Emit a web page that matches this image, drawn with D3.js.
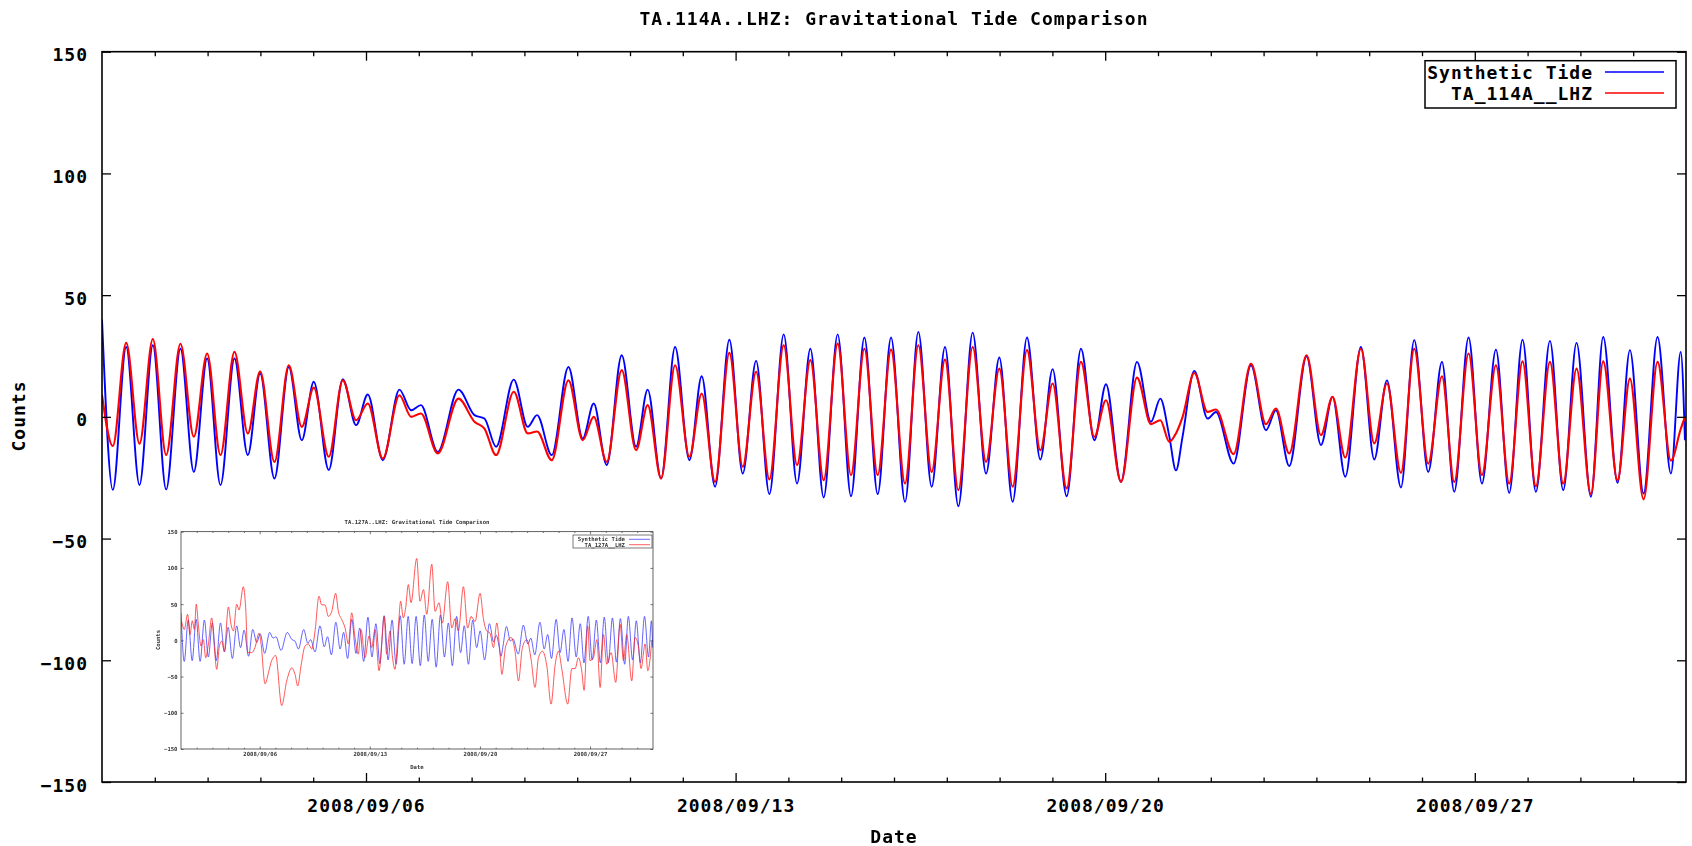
<!DOCTYPE html>
<html>
<head>
<meta charset="utf-8">
<script src="https://cdn.jsdelivr.net/npm/d3@7"></script>
<style>
  html, body { margin: 0; padding: 0; background: #fff; }
  svg { display: block; }
  .lbl { font-family: "DejaVu Sans Mono", monospace; font-weight: bold; font-size: 18px; letter-spacing: 1px; fill: #000; }
  .sm  { font-family: "DejaVu Sans Mono", monospace; font-weight: bold; font-size: 5.6px; fill: #333; }
</style>
</head>
<body>
<svg id="chart" width="1692" height="846"></svg>
<script>
// ---- Data: TA.114A..LHZ, 2008-09-01 .. 2008-10-01 (times are days since Sep 1, UTC) ----
const tideDay = [
  0, 0.205, 0.458, 0.71, 0.963, 1.215, 1.486, 1.739, 1.991, 2.244,
  2.509, 2.761, 2.995, 3.266, 3.538, 3.784, 4.011, 4.295, 4.56, 4.813,
  5.034, 5.318, 5.633, 5.855, 6.04, 6.359, 6.751, 7.054, 7.243, 7.464,
  7.798, 8.063, 8.24, 8.518, 8.834, 9.105, 9.313, 9.559, 9.843, 10.115,
  10.335, 10.589, 10.854, 11.125, 11.358, 11.611, 11.882, 12.135, 12.388, 12.64,
  12.911, 13.164, 13.416, 13.668, 13.933, 14.186, 14.439, 14.691, 14.944, 15.209,
  15.461, 15.713, 15.966, 16.219, 16.49, 16.743, 16.995, 17.247, 17.519, 17.771,
  18.004, 18.27, 18.541, 18.794, 19.015, 19.299, 19.602, 19.867, 20.044, 20.214,
  20.34, 20.466, 20.687, 20.939, 21.098, 21.432, 21.761, 22.045, 22.234, 22.486,
  22.814, 23.086, 23.306, 23.547, 23.843, 24.096, 24.336, 24.601, 24.853, 25.118,
  25.378, 25.611, 25.882, 26.135, 26.4, 26.652, 26.904, 27.157, 27.423, 27.675,
  27.927, 28.199, 28.432, 28.703, 28.938, 29.196, 29.461, 29.714, 29.9, 29.98
];
const syntheticTide = [
  40, -30, 28.7, -28, 29.4, -29.8, 28, -22.6, 24, -28,
  24, -15.7, 17.8, -25.3, 20.5, -9.6, 14.4, -21.9, 15.5, -3.4,
  9.2, -17.8, 11.2, 2.7, 4.8, -14.4, 11.2, 0.7, -0.7, -12.3,
  15.3, -4.1, 0.7, -15.7, 20.5, -8.9, 5.5, -19.8, 25.3, -12.3,
  11.2, -25.3, 28.7, -17.8, 16.7, -28.7, 31.7, -23.3, 23, -31.7,
  33.9, -27.4, 28, -33.1, 33.9, -32.6, 32.6, -31.7, 32.6, -34.9,
  34.9, -28.7, 28.7, -36.7, 34.6, -23.3, 24.4, -34.9, 32.6, -17.5,
  19.6, -32.6, 28, -9.6, 13.4, -26.7, 22.6, -2, 7.5, -8,
  -22, -8, 18.9, -0.7, 2, -19.2, 21.2, -5.5, 2.7, -20.2,
  24.9, -11.6, 8.2, -24.6, 28.7, -17.5, 15, -29, 31.5, -22.6,
  22.6, -30.8, 32.6, -27.4, 27.6, -31.2, 31.7, -30.8, 31.2, -30.1,
  30.4, -32.8, 32.8, -27.1, 27.4, -31.5, 32.8, -23.3, 26.7, -9.6
];
const observedLHZ = [
  9, -12, 30.4, -11, 32, -15.7, 30, -8.2, 26, -15.7,
  26.7, -6.8, 18.7, -18.5, 21.2, -4.1, 12, -16.4, 15, -1.4,
  5.5, -17.1, 8.9, 0, 1.4, -15, 7.5, -2, -4.8, -15.7,
  10.3, -6.8, -6, -17.8, 15, -9.6, 0, -18.5, 19.2, -13.7,
  4.8, -25.3, 21.2, -16.4, 9.6, -26.7, 26.3, -20.5, 18.5, -25.7,
  29.4, -19.8, 23.3, -26, 30.1, -23.9, 28, -23.9, 27.6, -27.4,
  29.4, -22.6, 23.5, -30.1, 28.7, -18.5, 19.8, -28.7, 27.4, -13.7,
  13.7, -29.4, 22.6, -8.2, 6.8, -26.7, 16.1, -3, -1.4, -10.3,
  -6.8, 0, 18, 2, 3, -15.3, 21.9, -3, 3.4, -15,
  25.3, -7.5, 8.2, -16.7, 28, -10.9, 13.7, -23, 28, -19.2,
  16.7, -26.7, 26, -23.9, 21.2, -27.4, 22.8, -28.5, 22.6, -27.4,
  19.8, -31.7, 22.8, -26, 15.7, -33.9, 22.6, -18, -5, 0
];

// ---- Data: TA.127A..LHZ (small panel) ----
const insetTide = [
  38, -29, 28, -28, 29, -29, 28, -23, 24, -28,
  24, -16, 18, -25, 20, -10, 14, -22, 15, -3,
  9, -18, 11, 3, 5, -14, 11, 1, -1, -12,
  15, -4, 1, -16, 20, -9, 5, -20, 25, -12,
  11, -25, 29, -18, 17, -29, 32, -23, 23, -32,
  34, -27, 28, -33, 34, -33, 33, -32, 33, -35,
  35, -29, 29, -37, 35, -23, 24, -35, 33, -17,
  20, -33, 28, -10, 13, -27, 23, -2, 7, -8,
  -22, -8, 19, -1, 2, -19, 21, -5, 3, -20,
  25, -12, 8, -25, 29, -17, 15, -29, 31, -23,
  23, -31, 33, -27, 28, -31, 32, -31, 31, -30,
  30, -33, 33, -27, 27, -31, 33, -23, 27, -10
];
const insetObsDay = [
  0.04, 0.21, 0.42, 0.57, 0.72, 0.85, 0.97, 1.10, 1.27, 1.42,
  1.57, 1.74, 1.95, 2.12, 2.27, 2.44, 2.59, 2.75, 3.01, 3.18,
  3.33, 3.54, 3.69, 3.96, 4.11, 4.24, 4.49, 4.70, 4.96, 5.09,
  5.34, 5.59, 5.76, 6.02, 6.40, 6.72, 7.04, 7.25, 7.42, 7.63,
  7.88, 8.09, 8.31, 8.52, 8.77, 8.94, 9.15, 9.37, 9.58, 9.83,
  10.00, 10.21, 10.43, 10.64, 10.85, 11.06, 11.27, 11.44, 11.70, 11.95,
  12.12, 12.33, 12.59, 12.76, 12.91, 13.07, 13.29, 13.43, 13.60, 13.82,
  13.96, 14.13, 14.28, 14.45, 14.62, 14.98, 15.19, 15.41, 15.62, 15.94,
  16.15, 16.40, 16.61, 16.95, 17.21, 17.42, 17.63, 17.95, 18.22, 18.44,
  18.69, 19.01, 19.22, 19.43, 19.64, 19.86, 20.07, 20.28, 20.39, 20.64,
  20.98, 21.23, 21.45, 21.70, 21.98, 22.25, 22.50, 22.72, 22.97, 23.25,
  23.52, 23.78, 23.99, 24.20, 24.58, 24.84, 25.05, 25.26, 25.47, 25.62,
  25.85, 26.00, 26.21, 26.43, 26.64, 26.85, 27.06, 27.34, 27.63, 27.91,
  28.12, 28.33, 28.65, 28.86, 29.07, 29.24, 29.50, 29.67, 29.92
];
const insetObs = [
  26, 15, 36, 8, 27, 15, 50, 22, -8, 1,
  -24, -5, 31, -10, -40, -8, -1, -15, 46, 22,
  13, 50, 42, 74, 45, -17, -17, -10, 10, -5,
  -60, -42, -28, -21, -90, -56, -38, -47, -63, -35,
  -8, -5, -12, 13, 61, 49, 49, 33, 40, 65,
  40, 29, 17, -5, 38, 4, -19, 15, -24, 6,
  -10, 15, -42, -3, 33, -19, 13, -21, -40, 20,
  54, 31, 45, 77, 52, 113, 54, 70, 36, 105,
  40, 52, 24, 81, 17, 30, 13, 74, 17, 33,
  26, 65, 30, 13, 10, -10, 24, -19, -47, -8,
  4, -15, -56, -10, 1, -26, -65, -24, -15, -35,
  -88, -34, -15, -39, -88, -39, -39, -24, -42, -69,
  20, -28, -24, 1, -65, 8, -33, -17, -58, 22,
  -28, 8, -56, 4, -8, -39, -5, -42, -1
];

// ---- Axis definitions ----
const yTicks = [-150, -100, -50, 0, 50, 100, 150];
const dayStart = Date.UTC(2008, 8, 1);
const dayEnd = Date.UTC(2008, 9, 1);
const majorTicks = ["2008-09-06", "2008-09-13", "2008-09-20", "2008-09-27"];
const mainTitle = "TA.114A..LHZ: Gravitational Tide Comparison";
const insetTitle = "TA.127A..LHZ: Gravitational Tide Comparison";
const seriesNames = ["Synthetic Tide", "TA_114A__LHZ"];
const insetSeriesNames = ["Synthetic Tide", "TA_127A__LHZ"];
const seriesColors = ["#0000ff", "#ff0000"];

const toDate = d => new Date(dayStart + d * 864e5);
const fmt = d3.utcFormat("%Y/%m/%d");
const majorDates = majorTicks.map(s => new Date(s + "T00:00:00Z"));
const minorDates = d3.utcDay.range(new Date(dayStart + 864e5), new Date(dayEnd))
  .filter(d => !majorDates.some(m => +m === +d));

const svg = d3.select("#chart");
const defs = svg.append("defs");
defs.append("filter").attr("id", "soft")
  .attr("x", "-5%").attr("y", "-5%").attr("width", "110%").attr("height", "110%")
  .append("feGaussianBlur").attr("stdDeviation", 0.35);

// Draws a boxed frame with inward major/minor ticks on all four sides.
function frame(g, xs, ys, o) {
  const [x0, x1] = xs.range();
  const [y0, y1] = ys.range(); // y0 bottom, y1 top
  const tickStyle = sel => {
    sel.select(".domain").remove();
    sel.selectAll(".tick line").attr("stroke", o.color).attr("stroke-width", o.tickWidth);
  };
  // bottom
  g.append("g").attr("transform", `translate(0,${y0})`)
    .call(d3.axisBottom(xs).tickValues(minorDates).tickSize(-o.minor).tickFormat(""))
    .call(tickStyle).selectAll("text").remove();
  const bx = g.append("g").attr("transform", `translate(0,${y0})`)
    .call(d3.axisBottom(xs).tickValues(majorDates).tickSize(-o.major).tickPadding(o.xPad).tickFormat(fmt))
    .call(tickStyle);
  bx.attr("font-family", null).attr("font-size", null);
  bx.selectAll("text").attr("class", o.textClass).attr("fill", null);
  // top
  g.append("g").attr("transform", `translate(0,${y1})`)
    .call(d3.axisTop(xs).tickValues(minorDates).tickSize(-o.minor).tickFormat(""))
    .call(tickStyle).selectAll("text").remove();
  g.append("g").attr("transform", `translate(0,${y1})`)
    .call(d3.axisTop(xs).tickValues(majorDates).tickSize(-o.major).tickFormat(""))
    .call(tickStyle).selectAll("text").remove();
  // left
  const ly = g.append("g").attr("transform", `translate(${x0},0)`)
    .call(d3.axisLeft(ys).tickValues(yTicks).tickSize(-o.major).tickPadding(o.yPad))
    .call(tickStyle);
  ly.attr("font-family", null).attr("font-size", null);
  ly.selectAll("text").attr("class", o.textClass).attr("fill", null).attr("dy", o.yDy);
  // right
  g.append("g").attr("transform", `translate(${x1},0)`)
    .call(d3.axisRight(ys).tickValues(yTicks).tickSize(-o.major).tickFormat(""))
    .call(tickStyle).selectAll("text").remove();
  // border
  g.append("rect").attr("x", x0).attr("y", y1).attr("width", x1 - x0).attr("height", y0 - y1)
    .attr("fill", "none").attr("stroke", o.color).attr("stroke-width", o.frameWidth);
}

function drawSeries(g, xs, ys, days, values, color, width, clipId, opacity) {
  const pts = d3.zip(days, values);
  g.append("path").datum(pts)
    .attr("clip-path", `url(#${clipId})`)
    .attr("fill", "none").attr("stroke", color).attr("stroke-width", width)
    .attr("stroke-opacity", opacity).attr("stroke-linejoin", "round")
    .attr("d", d3.line().x(d => xs(toDate(d[0]))).y(d => ys(d[1])).curve(d3.curveMonotoneX));
}

function addClip(id, xs, ys) {
  const [x0, x1] = xs.range();
  const [y0, y1] = ys.range();
  defs.append("clipPath").attr("id", id).append("rect")
    .attr("x", x0).attr("y", y1).attr("width", x1 - x0).attr("height", y0 - y1);
}

// ---- Main chart ----
const x = d3.scaleUtc().domain([new Date(dayStart), new Date(dayEnd)]).range([102, 1686]);
const y = d3.scaleLinear().domain([-150, 150]).range([782, 51.7]);
addClip("plotClip", x, y);

const main = svg.append("g");
drawSeries(main, x, y, tideDay, syntheticTide, seriesColors[0], 1.9, "plotClip", 1);
drawSeries(main, x, y, tideDay, observedLHZ, seriesColors[1], 2.1, "plotClip", 1);

// ---- Small comparison panel (TA.127A) ----
const ix = d3.scaleUtc().domain([new Date(dayStart), new Date(dayEnd)]).range([181, 653]);
const iy = d3.scaleLinear().domain([-150, 150]).range([749, 531.7]);
addClip("insetClip", ix, iy);
const inset = svg.append("g").attr("filter", "url(#soft)");
inset.append("rect").attr("x", 157).attr("y", 513).attr("width", 500).attr("height", 258).attr("fill", "#fff");
drawSeries(inset, ix, iy, tideDay, insetTide, "#3030ff", 1, "insetClip", 0.75);
drawSeries(inset, ix, iy, insetObsDay, insetObs, "#ff2020", 1, "insetClip", 0.75);
frame(inset, ix, iy, {
  color: "#222", tickWidth: 0.6, frameWidth: 0.7, major: 2.6, minor: 1.3,
  xPad: 3, yPad: 3.5, yDy: "0.35em", textClass: "sm"
});
inset.append("text").attr("class", "sm").attr("x", 417).attr("y", 524).attr("text-anchor", "middle").text(insetTitle);
inset.append("text").attr("class", "sm").attr("x", 417).attr("y", 769).attr("text-anchor", "middle").text("Date");
inset.append("text").attr("class", "sm").attr("text-anchor", "middle")
  .attr("transform", "translate(160,640) rotate(-90)").text("Counts");
const ilg = inset.append("g");
ilg.append("rect").attr("x", 573).attr("y", 535).attr("width", 79).attr("height", 13)
  .attr("fill", "#fff").attr("stroke", "#222").attr("stroke-width", 0.6);
insetSeriesNames.forEach((name, i) => {
  const cy = 539.3 + i * 5.4;
  ilg.append("text").attr("class", "sm").attr("x", 625).attr("y", cy + 2).attr("text-anchor", "end").text(name);
  ilg.append("line").attr("x1", 629).attr("x2", 650).attr("y1", cy).attr("y2", cy)
    .attr("stroke", i ? "#ff2020" : "#3030ff").attr("stroke-width", 0.9).attr("stroke-opacity", 0.8);
});

// ---- Main frame, ticks, labels ----
frame(main.append("g"), x, y, {
  color: "#000", tickWidth: 1.3, frameWidth: 1.6, major: 9, minor: 4.5,
  xPad: 17, yPad: 14, yDy: "0.5em", textClass: "lbl"
});

svg.append("text").attr("class", "lbl").attr("x", 894).attr("y", 25)
  .attr("text-anchor", "middle").text(mainTitle);
svg.append("text").attr("class", "lbl").attr("x", 894).attr("y", 843)
  .attr("text-anchor", "middle").text("Date");
svg.append("text").attr("class", "lbl").attr("text-anchor", "middle")
  .attr("transform", "translate(25,416) rotate(-90)").text("Counts");

// Legend
const lg = svg.append("g");
lg.append("rect").attr("x", 1425).attr("y", 60.7).attr("width", 251).attr("height", 47.3)
  .attr("fill", "#fff").attr("stroke", "#000").attr("stroke-width", 1.5);
seriesNames.forEach((name, i) => {
  const cy = 72 + i * 21;
  lg.append("text").attr("class", "lbl").attr("x", 1593).attr("y", cy + 6.5)
    .attr("text-anchor", "end").text(name);
  lg.append("line").attr("x1", 1605).attr("x2", 1664).attr("y1", cy).attr("y2", cy)
    .attr("stroke", seriesColors[i]).attr("stroke-width", 1.5);
});
</script>
</body>
</html>
